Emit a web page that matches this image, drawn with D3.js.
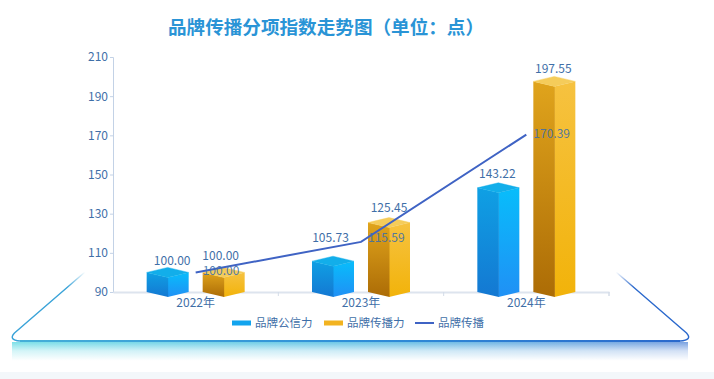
<!DOCTYPE html>
<html><head><meta charset="utf-8">
<script src="https://cdn.jsdelivr.net/npm/d3@7/dist/d3.min.js"></script>
<style>html,body{margin:0;padding:0;background:#fff;overflow:hidden}svg{display:block}text{font-family:"Noto Sans CJK SC","Noto Sans",sans-serif}</style>
</head><body><svg id="c" width="714" height="379"></svg>
<script>
const categories=["2022年","2023年","2024年"];
const credibility=[100.00,105.73,143.22];
const spread=[100.00,125.45,197.55];
const lineValues=[100.00,115.59,170.39];
const seriesNames=["品牌公信力","品牌传播力","品牌传播"];
const yTicks=[90,110,130,150,170,190,210];
const titleText="品牌传播分项指数走势图（单位：点）";

const svg=d3.select("#c");
const W=714,H=379,textCol="#3f6fa8";
const defs=svg.append("defs");
function grad(id,stops,c){
  const g=defs.append("linearGradient").attr("id",id);
  if(c) g.attr("gradientUnits","userSpaceOnUse").attr("x1",c[0]).attr("y1",c[1]).attr("x2",c[2]).attr("y2",c[3]);
  else g.attr("x1",0).attr("y1",0).attr("x2",0).attr("y2",1);
  stops.forEach(s=>g.append("stop").attr("offset",s[0]).attr("stop-color",s[1]).attr("stop-opacity",s[2]===undefined?1:s[2]));
}
grad("cL",[[0,"#0fa0e4"],[1,"#1478d2"]]);
grad("cR",[[0,"#08bdfb"],[1,"#2090f5"]]);
grad("yL",[[0,"#e0a41c"],[1,"#ac6c06"]]);
grad("yR",[[0,"#f6c240"],[1,"#f2b30a"]]);
grad("plate",[[0,"#45b0d8"],[0.5,"#2f8fd8"],[1,"#2a68cc"]],[12,0,688,0]);
grad("fadeV",[[0,"#fff",0.1],[0.4,"#fff",0.7],[0.85,"#fff",1],[1,"#fff",1]]);
grad("bandH",[[0,"#6fdde6"],[0.5,"#5cc0e4"],[1,"#6c98de"]],[12,0,688,0]);
grad("sideL",[[0,"#3aa3d8"],[0.75,"#3aa3d8"],[1,"#3aa3d8",0]],[14,333,85,272]);
grad("sideR",[[0,"#2a68cc"],[0.75,"#2a68cc"],[1,"#2a68cc",0]],[688,333,616,272]);

// platform
const px0=12,px1=688,pBottom=341;
svg.append("path").attr("d",`M${px0} ${pBottom+1}H${px1}V362H${px0}Z`).attr("fill","url(#bandH)");
svg.append("rect").attr("x",px0-1).attr("y",pBottom+1).attr("width",px1-px0+2).attr("height",22).attr("fill","url(#fadeV)");
svg.append("rect").attr("x",0).attr("y",372).attr("width",W).attr("height",7).attr("fill","#f3f7fa");
svg.append("path").attr("d",`M20 ${pBottom}H680`).attr("stroke","url(#plate)").attr("stroke-width",1.8).attr("fill","none");
svg.append("path").attr("d",`M85 272L14.5 333Q8 340 20 ${pBottom}`).attr("stroke","url(#sideL)").attr("stroke-width",1.4).attr("fill","none");
svg.append("path").attr("d",`M616 272L686.5 333Q693 340 680 ${pBottom}`).attr("stroke","url(#sideR)").attr("stroke-width",1.4).attr("fill","none");

// title
svg.append("text").attr("x",326).attr("y",33.5).attr("text-anchor","middle").attr("font-size",18.6).attr("font-weight",700).attr("fill","#2a94d6").text(titleText);

// scales
const m={l:113,r:609,t:57,b:292};
const x0=d3.scaleBand().domain(categories).range([m.l,m.r]);
const x1=d3.scaleBand().domain(seriesNames.slice(0,2)).range([-56,56]);
const y=d3.scaleLinear().domain([90,210]).range([m.b,m.t]);

// axes
const ay=svg.append("g").attr("transform",`translate(${m.l},0)`).call(d3.axisLeft(y).tickValues(yTicks).tickSize(3).tickPadding(2));
ay.selectAll("path,line").attr("stroke","#c3d2e6");
ay.selectAll("text").attr("font-size",12).attr("fill",textCol);
const ax=svg.append("g").attr("transform",`translate(0,${m.b})`).call(d3.axisBottom(x0).tickSize(0).tickPadding(6));
ax.select("path").attr("stroke","#dde4ee").attr("stroke-width",2);
ax.selectAll("text").attr("font-size",12).attr("fill",textCol);
svg.append("g").selectAll("line").data(x0.domain().map(d=>x0(d)+x0.bandwidth()).concat([m.r])).join("line")
  .attr("x1",d=>d).attr("x2",d=>d).attr("y1",m.b).attr("y2",m.b+4).attr("stroke","#d4dce8");

// 3D bars (label nudges follow the reference's hand-placed labels)
const hw=21,dy=5;
function bar(name,vals,pre,top,nudge){
  const g=svg.append("g");
  categories.forEach((c,i)=>{
    const cx=x0(c)+x0.bandwidth()/2+x1(name)+x1.bandwidth()/2, yt=y(vals[i]), yb=y(90);
    g.append("path").attr("d",`M${cx+hw} ${yt}L${cx} ${yt+dy}V${yb+dy}L${cx+hw} ${yb}Z`).attr("fill",`url(#${pre}R)`);
    g.append("path").attr("d",`M${cx-hw} ${yt}L${cx+0.5} ${yt+dy}V${yb+dy}L${cx-hw} ${yb}Z`).attr("fill",`url(#${pre}L)`);
    g.append("path").attr("d",`M${cx-hw} ${yt}L${cx} ${yt-dy}L${cx+hw} ${yt}L${cx} ${yt+dy}Z`).attr("fill",top).attr("stroke",top).attr("stroke-width",0.4);
    g.append("text").attr("x",cx+nudge[i][0]).attr("y",yt-dy-4+nudge[i][1]).attr("text-anchor","middle").attr("font-size",12).attr("fill",textCol).text(vals[i].toFixed(2));
  });
}
bar(seriesNames[0],credibility,"c","#12aeea",[[4.5,2],[-2.5,-10],[-1,-1]]);
bar(seriesNames[1],spread,"y","#f5cc5a",[[-3,-3],[0,-2],[-1,1]]);

// line
const cx=c=>x0(c)+x0.bandwidth()/2;
svg.append("path").datum(lineValues).attr("fill","none").attr("stroke","#3f63c4").attr("stroke-width",2)
  .attr("d",d3.line().x((d,i)=>cx(categories[i])).y(d=>y(d)));
const lineNudge=[-1,-4,-1];
svg.append("g").selectAll("text").data(lineValues).join("text")
  .attr("x",(d,i)=>cx(categories[i])+7).attr("y",(d,i)=>y(d)+4+lineNudge[i]).attr("font-size",12).attr("fill",textCol).attr("fill-opacity",.9)
  .text(d=>d.toFixed(2));

// legend
const lg=svg.append("g").attr("font-size",11.5);
const lx=[232,324,415], sw=19, ly=323;
lg.append("rect").attr("x",lx[0]).attr("y",ly-2.5).attr("width",sw).attr("height",5).attr("fill","#12a4ee");
lg.append("rect").attr("x",lx[1]).attr("y",ly-2.5).attr("width",sw).attr("height",5).attr("fill","#f2b320");
lg.append("line").attr("x1",lx[2]).attr("x2",lx[2]+sw).attr("y1",ly).attr("y2",ly).attr("stroke","#3f63c4").attr("stroke-width",2);
seriesNames.forEach((n,i)=>lg.append("text").attr("x",lx[i]+sw+4).attr("y",ly+4).attr("fill",textCol).text(n));
</script></body></html>
